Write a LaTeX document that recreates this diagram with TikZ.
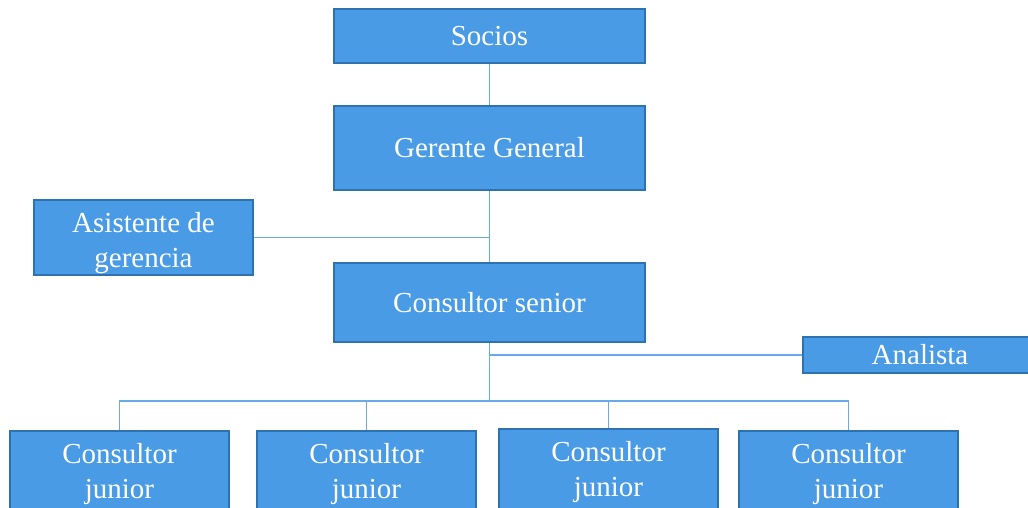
\documentclass[tikz,border=0pt]{standalone}
\usepackage{fontspec}
\setmainfont{Liberation Serif}
\usetikzlibrary{positioning, calc}

\definecolor{boxfill}{RGB}{74,155,229}
\definecolor{boxline}{RGB}{46,114,178}
\definecolor{linkline}{RGB}{104,170,234}

\begin{document}
\begin{tikzpicture}[
    x=1pt, y=-1pt,
    orgbox/.style={rectangle, draw=boxline, line width=2pt, fill=boxfill, text=white, inner sep=0pt, align=center, font=\fontsize{29}{35}\selectfont},
    wide/.style={orgbox, minimum width=311pt},
    small/.style={orgbox, minimum width=219pt},
    junior/.style={small, minimum height=80pt, text height=61.5pt, text depth=6.3pt},
    link/.style={draw=linkline, line width=1.4pt}
]
    \useasboundingbox (0,0) rectangle (1028,507);
    \clip (0,0) rectangle (1028,507);

    \node[wide, minimum height=54pt] (socios) at (489.5,36) {Socios};
    \node[wide, minimum height=84pt, below=41pt of socios] (gerente) {Gerente General};
    \node[wide, minimum height=79pt, below=71pt of gerente] (senior) {Consultor senior};

    \node[small, minimum height=75pt, text height=66.5pt, text depth=6.3pt] (asist) at (143.5,237.5) {Asistente de\\gerencia};
    \node[orgbox, minimum width=234pt, minimum height=36pt] (analista) at (920,355) {Analista};

    \node[junior] (cj1) at (119.5,471) {Consultor\\junior};
    \node[junior] (cj2) at (366.5,471) {Consultor\\junior};
    \node[junior] (cj3) at (608.5,469) {Consultor\\junior};
    \node[junior] (cj4) at (848.5,471) {Consultor\\junior};

    \coordinate (bus) at (489.5,401);

    \draw[link] (socios) -- (gerente);
    \draw[link] (gerente) -- (senior);
    \draw[link] (asist.east) -- (asist.east -| gerente.south);
    \draw[link] (senior.south) -- (bus);
    \draw[link] (senior.south |- analista.west) -- (analista.west);
    \draw[link] (cj1.north) |- (bus) -| (cj4.north);
    \draw[link] (cj2.north) -- (cj2.north |- bus);
    \draw[link] (cj3.north) -- (cj3.north |- bus);

\end{tikzpicture}
\end{document}
